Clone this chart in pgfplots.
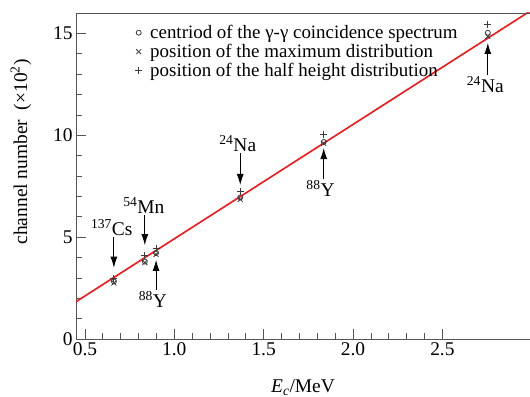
\documentclass[border=0pt]{standalone}
\usepackage{pgfplots}
\pgfplotsset{compat=1.18}
\usepackage{fontspec}
\setmainfont{Liberation Serif}
\usetikzlibrary{arrows.meta}
\definecolor{fitred}{HTML}{E32426}
\definecolor{axgray}{HTML}{555555}
\definecolor{mk}{HTML}{3A3A3A}
\begin{document}
\begin{tikzpicture}
\begin{axis}[name=ax, scale only axis, width=454bp, height=326bp,
  xmin=0.45, xmax=2.99, ymin=0, ymax=16,
  axis x line*=bottom, axis y line*=left,
  axis line style={axgray, line width=0.8bp, -},
  xtick={0.5,1,1.5,2,2.5}, minor x tick num=4,
  ytick={0,5,10,15}, minor y tick num=4,
  tick align=inside, major tick length=10bp, minor tick length=6bp,
  tick style={axgray, line width=0.7bp},
  x tick label style={/pgf/number format/.cd, fixed, fixed zerofill, precision=1},
  /pgf/number format/assume math mode=true,
  tick label style={font=\fontsize{19.5}{23}\selectfont},
  label style={font=\fontsize{19.5}{23}\selectfont},
  xlabel={\textit{E}\textsubscript{\textit{c}}/MeV},
  xlabel style={at={(axis description cs:0.5,-0.163)}, anchor=base},
  ylabel={channel number\ \ (×10\textsuperscript{2})},
  ylabel style={at={(axis description cs:-0.121,0.574)}, anchor=center},
  legend style={at={(axis description cs:0.130,0.966)}, anchor=north west, draw=none, fill=none,
    font=\fontsize{19}{22}\selectfont, row sep=2.2bp, column sep=7bp, inner sep=0pt, nodes={inner sep=1bp}},
  legend cell align=left,
]
\addplot[fitred, line width=1.7bp, no marks, forget plot] coordinates {(0.45,1.83) (2.99,16.09)};
\addplot[only marks, mark=o, mark size=2.5bp, mk, line width=0.8bp] coordinates {(0.662,2.82) (0.835,3.80) (0.898,4.22) (1.369,6.95) (1.836,9.67) (2.754,15.03)};
\addlegendentry{centriod of the γ-γ coincidence spectrum}
\addplot[only marks, mark=x, mark size=3.5bp, mk, line width=0.8bp] coordinates {(0.662,2.75) (0.835,3.75) (0.898,4.15) (1.369,6.85) (1.836,9.60) (2.754,14.85)};
\addlegendentry{position of the maximum distribution}
\addplot[only marks, mark=+, mark size=3.5bp, mk, line width=0.8bp] coordinates {(0.662,2.98) (0.835,4.08) (0.898,4.45) (1.369,7.22) (1.836,10.05) (2.754,15.45)};
\addlegendentry{position of the half height distribution}
\begin{scope}[font=\fontsize{19.5}{23}\selectfont]
\draw[-{Latex[length=11bp,width=7bp]}, line width=0.8bp] (axis cs:0.662,5.0) -- (axis cs:0.662,3.5);
\node[anchor=south, inner sep=1bp] at (axis cs:0.650,5.0) {\textsuperscript{137}Cs};
\draw[-{Latex[length=11bp,width=7bp]}, line width=0.8bp] (axis cs:0.835,6.09) -- (axis cs:0.835,4.61);
\node[anchor=south, inner sep=1bp] at (axis cs:0.830,6.09) {\textsuperscript{54}Mn};
\draw[-{Latex[length=11bp,width=7bp]}, line width=0.8bp] (axis cs:0.898,2.40) -- (axis cs:0.898,3.88);
\node[anchor=north, inner sep=1bp] at (axis cs:0.880,2.40) {\textsuperscript{88}Y};
\draw[-{Latex[length=11bp,width=7bp]}, line width=0.8bp] (axis cs:1.369,9.13) -- (axis cs:1.369,7.56);
\node[anchor=south, inner sep=1bp] at (axis cs:1.355,9.13) {\textsuperscript{24}Na};
\draw[-{Latex[length=11bp,width=7bp]}, line width=0.8bp] (axis cs:1.836,7.85) -- (axis cs:1.836,9.37);
\node[anchor=north, inner sep=1bp] at (axis cs:1.818,7.85) {\textsuperscript{88}Y};
\draw[-{Latex[length=11bp,width=7bp]}, line width=0.8bp] (axis cs:2.754,12.96) -- (axis cs:2.754,14.53);
\node[anchor=north, inner sep=1bp] at (axis cs:2.740,12.96) {\textsuperscript{24}Na};
\end{scope}
\end{axis}
\draw[axgray, line width=0.8bp] (ax.north west) -- (ax.north east);
\pgfresetboundingbox
\path (ax.south west) ++(-76bp,-58bp) rectangle ++(530bp,397bp);
\end{tikzpicture}
\end{document}
